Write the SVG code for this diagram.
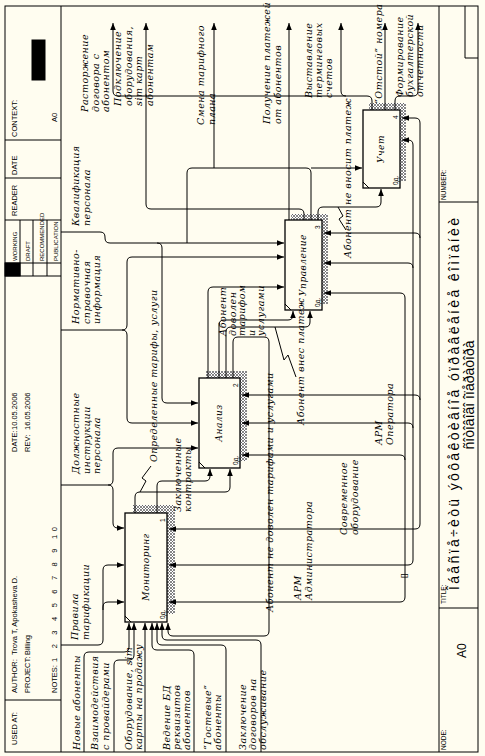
<svg xmlns="http://www.w3.org/2000/svg" width="485" height="756" viewBox="0 0 485 756">
<defs>
<style>
.ln{fill:none;stroke:#000;stroke-width:1}
.bx{fill:#FFFDF0;stroke:#000;stroke-width:1.3}
.sh{fill:url(#hatch)}
.lb{font-family:"DejaVu Serif",serif;font-style:italic;font-size:9.5px;letter-spacing:0.5px;fill:#000}
.hd{font-family:"Liberation Sans",sans-serif;font-size:7.5px;fill:#000}
.ttl{font-family:"Liberation Sans",sans-serif;font-size:14px;fill:#000}
.bn{font-family:"DejaVu Serif",serif;font-style:italic;font-size:9px;letter-spacing:0.5px;fill:#000}
.sm{font-family:"Liberation Sans",sans-serif;font-size:6.5px;fill:#000}
.xs{font-family:"Liberation Sans",sans-serif;font-size:6px;fill:#000}
</style>
<pattern id="hatch" width="3" height="3" patternUnits="userSpaceOnUse">
<rect width="3" height="3" fill="#fff"/>
<path d="M0,0L3,3M3,0L0,3" stroke="#555" stroke-width="0.7"/>
</pattern>
<marker id="ah" viewBox="0 0 10 10" refX="10" refY="5" markerWidth="7" markerHeight="7" markerUnits="userSpaceOnUse" orient="auto"><path d="M0,1L10,5L0,9z"/></marker>
</defs>
<rect width="485" height="756" fill="#FFFDF0"/>
<g id="frame" class="ln">
<rect x="5" y="6" width="473" height="746"/>
<path d="M61,6V752M439,6V752M5,700H61M5,276H61M5,220H61M5,178H61M5,140H61M20,220V276M33,220V276M47,220V276M5,263H61M439,608H478M439,202H478M465,6V58H478"/>
<rect x="5" y="263" width="15" height="13" fill="#000"/>
<rect x="32" y="40" width="13" height="40" fill="#000"/>
</g>
<g id="header">
<text class="hd" transform="translate(17,745) rotate(-90)">USED AT:</text>
<text class="hd" transform="translate(17,693) rotate(-90)">AUTHOR:</text>
<text class="hd" transform="translate(17,655) rotate(-90)">Trova T, Apokasheva D.</text>
<text class="hd" transform="translate(30,693) rotate(-90)">PROJECT:</text>
<text class="hd" transform="translate(30,655) rotate(-90)">Billing</text>
<text class="hd" transform="translate(57,693) rotate(-90)">NOTES:</text>
<text class="hd" transform="translate(57,662) rotate(-90)" textLength="135" lengthAdjust="spacing">1  2  3  4  5  6  7  8  9  10</text>
<text class="hd" transform="translate(17,452) rotate(-90)">DATE:</text>
<text class="hd" transform="translate(17,430) rotate(-90)">10.05.2006</text>
<text class="hd" transform="translate(30,452) rotate(-90)">REV:</text>
<text class="hd" transform="translate(30,430) rotate(-90)">16.05.2006</text>
<text class="xs" transform="translate(17,261) rotate(-90)">WORKING</text>
<text class="xs" transform="translate(30,261) rotate(-90)">DRAFT</text>
<text class="xs" transform="translate(44,261) rotate(-90)">RECOMMENDED</text>
<text class="xs" transform="translate(58,261) rotate(-90)">PUBLICATION</text>
<text class="hd" transform="translate(17,216) rotate(-90)">READER</text>
<text class="hd" transform="translate(17,175) rotate(-90)">DATE</text>
<text class="hd" transform="translate(17,137) rotate(-90)">CONTEXT:</text>
<text class="hd" transform="translate(57,122) rotate(-90)">A0</text>
</g>
<g id="footer">
<text class="sm" transform="translate(446,750) rotate(-90)">NODE:</text>
<text class="ttl" transform="translate(466,658) rotate(-90)" style="font-size:12px">A0</text>
<text class="sm" transform="translate(446,604) rotate(-90)">TITLE:</text>
<text class="ttl" transform="translate(459,590) rotate(-90)" textLength="372" lengthAdjust="spacing">Îáåñïå÷èòü ýôôåêòèâíîå óïðàâëåíèå êîìïàíèè</text>
<text class="ttl" transform="translate(474,395) rotate(-90)" text-anchor="middle">ñîòîâîãî îïåðàòîðà</text>
<text class="sm" transform="translate(446,200) rotate(-90)">NUMBER:</text>
</g>
<g id="node1">
<rect class="sh" x="133" y="505" width="42" height="109"/>
<rect class="bx" x="125" y="513" width="42" height="109"/>
<path class="ln" d="M125,616L131,622"/>
<text class="bn" transform="translate(149,567) rotate(-90)" text-anchor="middle">Мониторинг</text>
<text class="sm" transform="translate(165,522) rotate(-90)">1</text>
<text class="sm" transform="translate(165,619) rotate(-90)">0д.</text>
</g>
<g id="node2">
<rect class="sh" x="206" y="371" width="41" height="90"/>
<rect class="bx" x="199" y="378" width="41" height="90"/>
<path class="ln" d="M199,462L205,468"/>
<text class="bn" transform="translate(222,423) rotate(-90)" text-anchor="middle">Анализ</text>
<text class="sm" transform="translate(238,387) rotate(-90)">2</text>
<text class="sm" transform="translate(238,465) rotate(-90)">0д.</text>
</g>
<g id="node3">
<rect class="sh" x="291" y="214" width="37" height="90"/>
<rect class="bx" x="285" y="220" width="37" height="90"/>
<path class="ln" d="M285,304L291,310"/>
<text class="bn" transform="translate(306,265) rotate(-90)" text-anchor="middle">Управление</text>
<text class="sm" transform="translate(320,229) rotate(-90)">3</text>
<text class="sm" transform="translate(320,307) rotate(-90)">0д.</text>
</g>
<g id="node4">
<rect class="sh" x="369" y="103" width="37" height="78"/>
<rect class="bx" x="363" y="110" width="37" height="78"/>
<path class="ln" d="M363,182L369,188"/>
<text class="bn" transform="translate(384,149) rotate(-90)" text-anchor="middle">Учет</text>
<text class="sm" transform="translate(398,119) rotate(-90)">4</text>
<text class="sm" transform="translate(398,185) rotate(-90)">0д.</text>
</g>
<g id="connectors" class="ln">
<g marker-end="url(#ah)">
<path d="M372,110V101Q372,96 367,96H118Q113,96 113,91V23"/>
<path d="M346,96Q341,96 341,91V23"/>
<path d="M385,110V23"/>
<path d="M395,110V101Q395,96 400,96H413Q418,96 418,91V23"/>
<path d="M289,220V23"/>
<path d="M304,220V214Q304,209 299,209H151Q146,209 146,204V23"/>
<path d="M311,168H362"/>
<path d="M214,168V23"/>
<path d="M318,220V212Q318,207 323,207H376Q381,207 381,202V189"/>
<path d="M61,232H100Q105,232 105,237V238Q105,243 110,243H284"/>
<path d="M157,243Q162,243 162,248V398Q162,403 167,403H198"/>
<path d="M61,330H122Q127,330 127,325V262Q127,257 132,257H284"/>
<path d="M122,330Q127,330 127,335V418Q127,423 132,423H198"/>
<path d="M61,485H108Q113,485 113,480V453Q113,448 118,448H198"/>
<path d="M108,485Q113,485 113,490V523Q113,528 118,528H124"/>
<path d="M61,645H98Q103,645 103,640V607Q103,602 108,602H124"/>
<path d="M103,610V570Q103,565 108,565H124"/>
<path d="M157,513V486Q157,481 162,481H205Q210,481 210,476V469"/>
<path d="M135,513V497Q135,492 140,492H225Q230,492 230,487V469"/>
<path d="M208,378V292Q208,287 213,287H284"/>
<path d="M219,378V325Q219,320 224,320H288Q293,320 293,315V311"/>
<path d="M226,378V332Q226,327 231,327H305Q310,327 310,322V311"/>
<path d="M233,378V342Q233,337 238,337H264Q269,337 269,342V631Q269,636 264,636H173Q168,636 168,631V623"/>
<path d="M84,752V657Q84,652 89,652H124Q129,652 129,647V623"/>
<path d="M114,752V665Q114,660 119,660H129Q134,660 134,655V623"/>
<path d="M145,752V623"/>
<path d="M194,752V655Q194,650 189,650H157Q152,650 152,645V623"/>
<path d="M226,752V650Q226,645 221,645H162Q157,645 157,640V623"/>
<path d="M261,752V645Q261,640 256,640H167Q162,640 162,635V623"/>
<path d="M420,524V123Q420,118 415,118H402"/>
<path d="M420,524Q420,529 415,529H169"/>
<path d="M420,238Q420,233 415,233H324"/>
<path d="M420,400Q420,395 415,395H242"/>
<path d="M413,560V145Q413,140 408,140H402"/>
<path d="M413,560Q413,565 408,565H169"/>
<path d="M413,268Q413,263 408,263H324"/>
<path d="M413,428Q413,423 408,423H242"/>
<path d="M405,597V298Q405,293 400,293H324"/>
<path d="M405,597Q405,602 400,602H169"/>
<path d="M405,460Q405,455 400,455H242"/>
</g>
<path d="M311,220V173Q311,168 306,168H192Q187,168 187,173V243"/>
<path d="M140,492L146,481L142,478L151,466"/>
<path d="M275,327L284,360L288,355L296,377"/>
<path d="M338,207L343,216L339,219L346,230"/>
</g>
<g id="labels">
<text class="lb" transform="translate(88,112) rotate(-90)"><tspan x="0">Расторжение</tspan><tspan x="0" dy="10.5">договора с</tspan><tspan x="0" dy="10.5">абонентом</tspan></text>
<text class="lb" transform="translate(121,106) rotate(-90)"><tspan x="0">Подключение</tspan><tspan x="0" dy="10.5">оборудования,</tspan><tspan x="0" dy="10.5">sim карт</tspan><tspan x="0" dy="10.5">абонентам</tspan></text>
<text class="lb" transform="translate(204,125) rotate(-90)"><tspan x="0">Смена тарифного</tspan><tspan x="0" dy="10.5">плана</tspan></text>
<text class="lb" transform="translate(270,124) rotate(-90)"><tspan x="0">Получение платежей</tspan><tspan x="0" dy="10.5">от абонентов</tspan></text>
<text class="lb" transform="translate(312,98) rotate(-90)"><tspan x="0">Выставление</tspan><tspan x="0" dy="10">терминговых</tspan><tspan x="0" dy="10">счетов</tspan></text>
<text class="lb" transform="translate(382,104) rotate(-90)">“Отстой” номера</text>
<text class="lb" transform="translate(403,97) rotate(-90)"><tspan x="0">Формирование</tspan><tspan x="0" dy="10">бухгалтерской</tspan><tspan x="0" dy="10">отчетности</tspan></text>
<text class="lb" transform="translate(79,226) rotate(-90)"><tspan x="0">Квалификация</tspan><tspan x="0" dy="10.5">персонала</tspan></text>
<text class="lb" transform="translate(79,324) rotate(-90)"><tspan x="0">Нормативно-</tspan><tspan x="0" dy="10.5">справочная</tspan><tspan x="0" dy="10.5">информация</tspan></text>
<text class="lb" transform="translate(79,474) rotate(-90)"><tspan x="0">Должностные</tspan><tspan x="0" dy="10.5">инструкции</tspan><tspan x="0" dy="10.5">персонала</tspan></text>
<text class="lb" transform="translate(78,640) rotate(-90)"><tspan x="0">Правила</tspan><tspan x="0" dy="10.5">тарификации</tspan></text>
<text class="lb" transform="translate(80,750) rotate(-90)">Новые абоненты</text>
<text class="lb" transform="translate(98,750) rotate(-90)"><tspan x="0">Взаимодействия</tspan><tspan x="0" dy="11">с провайдерами</tspan></text>
<text class="lb" transform="translate(132,750) rotate(-90)"><tspan x="0">Оборудование, sim</tspan><tspan x="0" dy="10">карты на продажу</tspan></text>
<text class="lb" transform="translate(170,750) rotate(-90)"><tspan x="0">Ведение БД</tspan><tspan x="0" dy="10">реквизитов</tspan><tspan x="0" dy="10">абонентов</tspan></text>
<text class="lb" transform="translate(211,750) rotate(-90)"><tspan x="0">“Гостевые”</tspan><tspan x="0" dy="10">абоненты</tspan></text>
<text class="lb" transform="translate(246,750) rotate(-90)"><tspan x="0">Заключение</tspan><tspan x="0" dy="10">договоров на</tspan><tspan x="0" dy="10">обслуживание</tspan></text>
<text class="lb" transform="translate(301,600) rotate(-90)"><tspan x="0">АРМ</tspan><tspan x="0" dy="10.5">Администратора</tspan></text>
<text class="lb" transform="translate(347,535) rotate(-90)"><tspan x="0">Современное</tspan><tspan x="0" dy="10.5">оборудование</tspan></text>
<text class="lb" transform="translate(382,445) rotate(-90)"><tspan x="0">АРМ</tspan><tspan x="0" dy="10.5">Оператора</tspan></text>
<text class="lb" transform="translate(157,462) rotate(-90)">Определенные тарифы, услуги</text>
<text class="lb" transform="translate(181,512) rotate(-90)"><tspan x="0">Заключенные</tspan><tspan x="0" dy="10">контракты</tspan></text>
<text class="lb" transform="translate(273,612) rotate(-90)">Абонент не доволен тарифами и услугами</text>
<text class="lb" transform="translate(226,336) rotate(-90)"><tspan x="0">Абонент</tspan><tspan x="0" dy="9.5">доволен</tspan><tspan x="0" dy="9.5">тарифом</tspan><tspan x="0" dy="9.5">и</tspan><tspan x="0" dy="9.5">услугами</tspan></text>
<text class="lb" transform="translate(304,425) rotate(-90)">Абонент внес платеж</text>
<text class="lb" transform="translate(351,258) rotate(-90)">Абонент не вносит платеж</text>
<text class="sm" transform="translate(406,578) rotate(-90)" style="font-size:8px">[]</text>
</g>
</svg>
